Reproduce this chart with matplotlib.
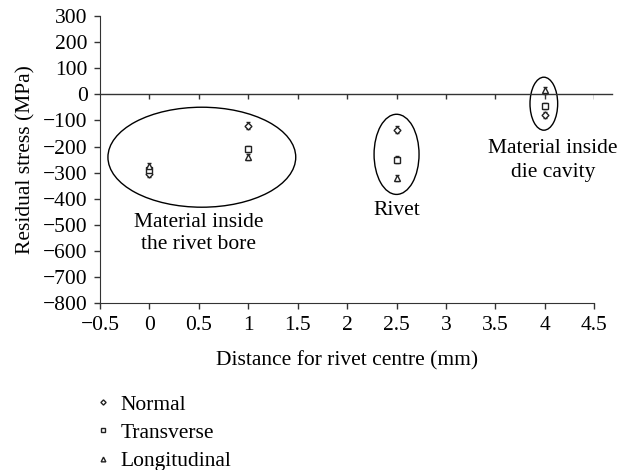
import numpy as np
import matplotlib
matplotlib.use('Agg')
import matplotlib.pyplot as plt
from matplotlib.patches import Ellipse

plt.rcParams['font.family'] = ['Liberation Serif', 'DejaVu Serif']
plt.rcParams['font.size'] = 15.5

# data
distance = [0, 1, 2.5, 4]
normal = [-305, -120, -135, -80]
transverse = [-290, -210, -250, -45]
longitudinal = [-275, -240, -320, 15]
err = [12, 12, 12, 12]

# groups circled in the chart: (centre x, centre y, width, height)
groups = [(0.53, -241, 1.9, 383), (2.5, -230, 0.455, 307), (3.99, -36, 0.28, 203)]
group_text = [(0.5, -532, 'Material inside\nthe rivet bore', 1.2),
              (2.5, -445, 'Rivet', 1.2),
              (4.08, -255, 'Material inside\ndie cavity', 1.35)]

fig = plt.figure(figsize=(6.19, 4.70), dpi=100)
ax = fig.add_axes([0.1616, 0.355, 0.7984, 0.611])

col = '#222222'
for ys in (normal, transverse, longitudinal):
    ax.errorbar(distance, ys, yerr=err, fmt='none', ecolor=col, elinewidth=1, capsize=1.5)
ax.plot(distance, normal, linestyle='none', marker='D', ms=3.5, mfc='white', mec=col, mew=1, label='Normal')
ax.plot(distance, transverse, linestyle='none', marker='s', ms=4.5, mfc='white', mec=col, mew=1, label='Transverse')
ax.plot(distance, longitudinal, linestyle='none', marker='^', ms=4.5, mfc='white', mec=col, mew=1, label='Longitudinal')

for cx, cy, w, h in groups:
    ax.add_patch(Ellipse((cx, cy), w, h, fill=False, ec='black', lw=1))
for tx, ty, s, ls in group_text:
    ax.text(tx, ty, s, ha='center', va='center', linespacing=ls)

xt = np.arange(-0.5, 4.51, 0.5)
# zero line with its own tick marks
ax.axhline(0, xmin=0, xmax=1.035, color='#333333', lw=1, clip_on=False)
ax.vlines(xt[1:], -18, 0, color='#333333', lw=1)

ax.set_xlim(-0.5, 4.5)
ax.set_ylim(-800, 300)
ax.set_xticks(xt)
ax.set_xticklabels(['\u22120.5', '0', '0.5', '1', '1.5', '2', '2.5', '3', '3.5', '4', '4.5'])
yt = np.arange(-800, 301, 100)
ax.set_yticks(yt)
ax.set_yticklabels([('\u2212%d' % -v) if v < 0 else '%d' % v for v in yt])
ax.tick_params(direction='out', length=4, width=1, color='#333333')
ax.tick_params(axis='y', pad=5)
ax.tick_params(axis='x', pad=5)
for s in ['top', 'right']:
    ax.spines[s].set_visible(False)
for s in ['left', 'bottom']:
    ax.spines[s].set_color('#333333')
ax.set_xlabel('Distance for rivet centre (mm)', labelpad=12)
ax.set_ylabel('Residual stress (MPa)', labelpad=5)

fig.legend(loc='center left', bbox_to_anchor=(0.158, 0.079), bbox_transform=fig.transFigure,
           frameon=False, handlelength=0.5, handletextpad=0.55, labelspacing=0.38,
           markerscale=0.75, borderaxespad=0, borderpad=0)

fig.savefig('out.png', dpi=100)
